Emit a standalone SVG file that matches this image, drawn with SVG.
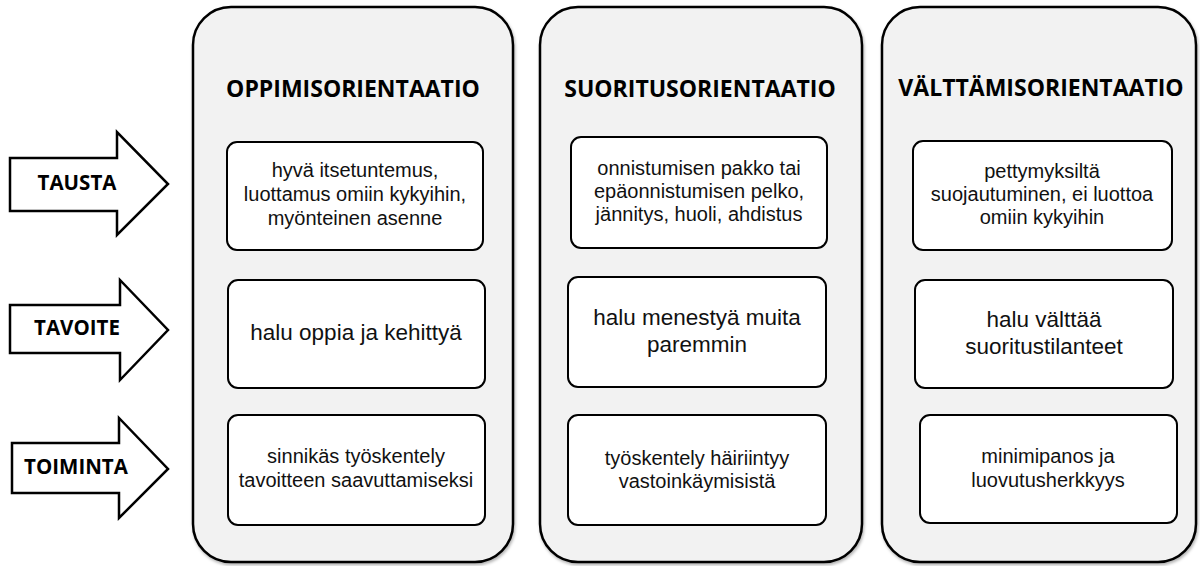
<svg xmlns="http://www.w3.org/2000/svg" width="1200" height="566" viewBox="0 0 1200 566">
<style>
.col{fill:#f2f2f2;stroke:#000;stroke-width:2.5}
.box{fill:#fff;stroke:#000;stroke-width:2}
.arr{fill:#fff;stroke:#000;stroke-width:2.5;stroke-linejoin:miter}
.hd{font-family:"Open Sans","Liberation Sans",sans-serif;font-weight:bold;font-size:23px;fill:#000;text-anchor:middle}
.al{font-family:"Open Sans","Liberation Sans",sans-serif;font-weight:bold;font-size:20.5px;fill:#000;text-anchor:middle}
.t{font-family:"Liberation Sans",Arial,sans-serif;font-size:20px;fill:#111;text-anchor:middle}
.t2{font-family:"Liberation Sans",Arial,sans-serif;font-size:22.5px;fill:#111;text-anchor:middle}
</style>
<defs>
<filter id="sh" x="-5%" y="-5%" width="110%" height="110%">
<feDropShadow dx="1" dy="2" stdDeviation="1.5" flood-color="#000" flood-opacity="0.3"/>
</filter>
</defs>
<rect width="1200" height="566" fill="#fff"/>

<g id="arrows">
<g id="arrow-tausta">
<polygon class="arr" points="10,158 117,158 117,132 168,184 117,235 117,211 10,211"/>
<text class="al" x="77" y="190">TAUSTA</text>
</g>
<g id="arrow-tavoite">
<polygon class="arr" points="10,305 120,305 120,280 168,330 120,380 120,353 10,353"/>
<text class="al" x="77" y="335">TAVOITE</text>
</g>
<g id="arrow-toiminta">
<polygon class="arr" points="12,443 119,443 119,418 168,469 119,518 119,493 12,493"/>
<text class="al" x="76" y="474">TOIMINTA</text>
</g>
</g>

<g id="col-oppimis">
<rect class="col" filter="url(#sh)" x="193" y="7" width="320" height="555" rx="38"/>
<text class="hd" x="353" y="97">OPPIMISORIENTAATIO</text>
<g id="o1"><rect class="box" x="227" y="142" width="256" height="108" rx="10"/>
<text class="t" x="355" y="177">hyvä itsetuntemus,</text>
<text class="t" x="355" y="201">luottamus omiin kykyihin,</text>
<text class="t" x="355" y="225">myönteinen asenne</text></g>
<g id="o2"><rect class="box" x="228" y="280" width="257" height="108" rx="10"/>
<text class="t2" x="356" y="340">halu oppia ja kehittyä</text></g>
<g id="o3"><rect class="box" x="228" y="415" width="257" height="110" rx="10"/>
<text class="t" x="356" y="463">sinnikäs työskentely</text>
<text class="t" x="356" y="487">tavoitteen saavuttamiseksi</text></g>
</g>

<g id="col-suoritus">
<rect class="col" filter="url(#sh)" x="540" y="7" width="322" height="555" rx="38"/>
<text class="hd" x="700" y="97">SUORITUSORIENTAATIO</text>
<g id="s1"><rect class="box" x="571" y="137" width="256" height="111" rx="10"/>
<text class="t" x="699" y="175">onnistumisen pakko tai</text>
<text class="t" x="699" y="198">epäonnistumisen pelko,</text>
<text class="t" x="699" y="221">jännitys, huoli, ahdistus</text></g>
<g id="s2"><rect class="box" x="568" y="277" width="258" height="110" rx="10"/>
<text class="t2" x="697" y="325">halu menestyä muita</text>
<text class="t2" x="697" y="352">paremmin</text></g>
<g id="s3"><rect class="box" x="568" y="415" width="258" height="110" rx="10"/>
<text class="t" x="697" y="465">työskentely häiriintyy</text>
<text class="t" x="697" y="488">vastoinkäymisistä</text></g>
</g>

<g id="col-valttamis">
<rect class="col" filter="url(#sh)" x="882" y="7" width="314" height="555" rx="38"/>
<text class="hd" x="1041" y="96">VÄLTTÄMISORIENTAATIO</text>
<g id="v1"><rect class="box" x="913" y="141" width="259" height="109" rx="10"/>
<text class="t" x="1042" y="178">pettymyksiltä</text>
<text class="t" x="1042" y="201">suojautuminen, ei luottoa</text>
<text class="t" x="1042" y="224">omiin kykyihin</text></g>
<g id="v2"><rect class="box" x="915" y="280" width="258" height="108" rx="10"/>
<text class="t2" x="1044" y="327">halu välttää</text>
<text class="t2" x="1044" y="354">suoritustilanteet</text></g>
<g id="v3"><rect class="box" x="920" y="415" width="257" height="108" rx="10"/>
<text class="t" x="1048" y="463">minimipanos ja</text>
<text class="t" x="1048" y="487">luovutusherkkyys</text></g>
</g>
</svg>
